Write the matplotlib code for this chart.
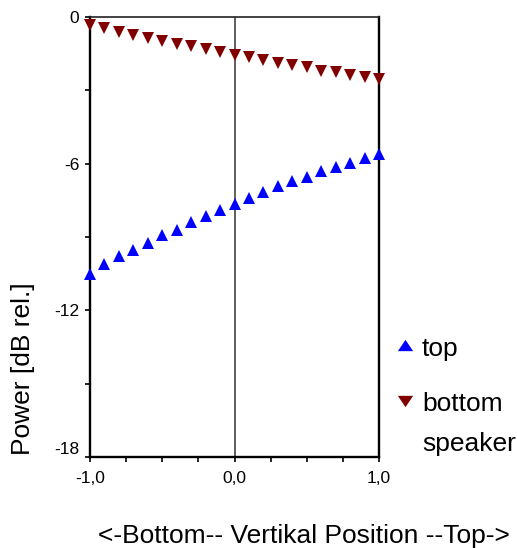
import numpy as np
import matplotlib
matplotlib.use("Agg")
import matplotlib.pyplot as plt
from matplotlib.lines import Line2D
from matplotlib.ticker import MultipleLocator, FixedLocator

plt.rcParams['font.family'] = ['Liberation Sans', 'DejaVu Sans']

# Data
position = [-1.0, -0.9, -0.8, -0.7, -0.6, -0.5, -0.4, -0.3, -0.2, -0.1, 0.0,
            0.1, 0.2, 0.3, 0.4, 0.5, 0.6, 0.7, 0.8, 0.9, 1.0]
top_power = [-10.53, -10.12, -9.78, -9.54, -9.25, -8.93, -8.70, -8.40, -8.16, -7.88, -7.66,
             -7.40, -7.16, -6.91, -6.72, -6.53, -6.31, -6.12, -5.96, -5.75, -5.61]
bottom_power = [-0.33, -0.46, -0.60, -0.72, -0.85, -0.97, -1.09, -1.20, -1.32, -1.45, -1.54,
                -1.63, -1.75, -1.87, -1.95, -2.06, -2.19, -2.27, -2.36, -2.45, -2.54]
xtick_vals = [-1.0, 0.0, 1.0]
xtick_labels = ["-1,0", "0,0", "1,0"]
ytick_vals = [0, -6, -12, -18]
ytick_labels = ["0", "-6", "-12", "-18"]
series_labels = ["top", "bottom", "speaker"]

W, H = 517, 548
fig = plt.figure(figsize=(W / 100, H / 100), dpi=100)
ax = fig.add_axes([90 / W, 1 - 457 / H, (379 - 90) / W, (457 - 17) / H])

ax.set_xlim(-1, 1)
ax.set_ylim(-18, 0)

ax.axvline(0, color='#333333', lw=1.1, zorder=1)

ax.plot(position, top_power, linestyle='none', marker='^', ms=8.8, color='#0000ff',
        markeredgewidth=0, clip_on=False, zorder=3)
ax.plot(position, bottom_power, linestyle='none', marker='v', ms=8.8, color='#800000',
        markeredgewidth=0, clip_on=False, zorder=3)

for s in ['left', 'bottom', 'right']:
    ax.spines[s].set_linewidth(1.7)
    ax.spines[s].set_color('black')
ax.spines['top'].set_linewidth(1.2)
ax.spines['top'].set_color('#222222')

ax.xaxis.set_major_locator(FixedLocator(xtick_vals))
ax.set_xticklabels(xtick_labels)
ax.xaxis.set_minor_locator(MultipleLocator(0.25))
ax.yaxis.set_major_locator(FixedLocator(ytick_vals))
ax.set_yticklabels(ytick_labels)
ax.yaxis.set_minor_locator(MultipleLocator(3))

ax.tick_params(axis='both', which='both', direction='out', length=3.8, width=1.2,
               color='black', labelsize=12.5)
ax.tick_params(axis='y', pad=4)
ax.tick_params(axis='x', pad=6)
ax.tick_params(top=False, right=False)

ylabels = ax.get_yticklabels()
ylabels[-1].set_verticalalignment('bottom')

fig.text(303.5 / W, 1 - 543 / H, "<-Bottom-- Vertikal Position --Top->", fontsize=19,
         ha='center', va='baseline')
fig.text(23 / W, 1 - 368.5 / H, "Power [dB rel.]", fontsize=19, rotation=90,
         ha='center', va='center')

# Legend (manual)
tri_up = [(0, 1), (-1.35, -1), (1.35, -1)]
tri_dn = [(0, -1), (-1.35, 1), (1.35, 1)]
fig.add_artist(Line2D([404.5 / W], [1 - 344.5 / H], marker=tri_up, ms=11, color='#0000ff',
                      markeredgewidth=0, linestyle='none', transform=fig.transFigure))
fig.add_artist(Line2D([404.5 / W], [1 - 400.5 / H], marker=tri_dn, ms=11, color='#800000',
                      markeredgewidth=0, linestyle='none', transform=fig.transFigure))
fig.text(422 / W, 1 - 356 / H, series_labels[0], fontsize=19, ha='left', va='baseline')
fig.text(422 / W, 1 - 411 / H, series_labels[1], fontsize=19, ha='left', va='baseline')
fig.text(422 / W, 1 - 451 / H, series_labels[2], fontsize=19, ha='left', va='baseline')

fig.savefig("out.png", dpi=100)
